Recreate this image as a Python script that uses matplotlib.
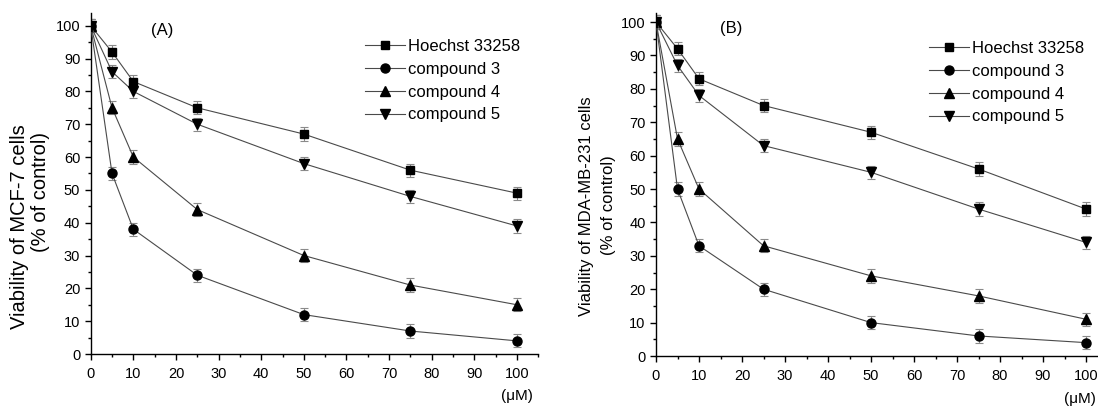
import matplotlib.pyplot as plt
from matplotlib.lines import Line2D
from matplotlib.ticker import MultipleLocator

plt.rcParams['font.family'] = ['Liberation Sans', 'DejaVu Sans']

conc = [0, 5, 10, 25, 50, 75, 100]
series_names = ["Hoechst 33258", "compound 3", "compound 4", "compound 5"]
markers = ["s", "o", "^", "v"]
marker_sizes = [5.8, 6.5, 7.0, 7.0]

# panel A: MCF-7
mcf7_hoechst = [100, 92, 83, 75, 67, 56, 49]
mcf7_c3 = [100, 55, 38, 24, 12, 7, 4]
mcf7_c4 = [100, 75, 60, 44, 30, 21, 15]
mcf7_c5 = [100, 86, 80, 70, 58, 48, 39]

# panel B: MDA-MB-231
mda_hoechst = [100, 92, 83, 75, 67, 56, 44]
mda_c3 = [100, 50, 33, 20, 10, 6, 4]
mda_c4 = [100, 65, 50, 33, 24, 18, 11]
mda_c5 = [100, 87, 78, 63, 55, 44, 34]

err = 2.0

LINE = "#4a4a4a"
EBAR = "#8a8a8a"

W, H = 1098, 408
fig = plt.figure(figsize=(W / 100, H / 100), dpi=100)


def fx(px):
    return px / W


def fy(py):
    return 1 - py / H


def px_box(x0, y0, x1, y1):
    return [x0 / W, 1 - y1 / H, (x1 - x0) / W, (y1 - y0) / H]


def panel(ax, data, ytop, tag, tag_xy, leg_xy):
    for vals, m, ms in zip(data, markers, marker_sizes):
        ax.errorbar(conc, vals, yerr=err, fmt='none', ecolor=EBAR,
                    elinewidth=0.8, capsize=2.6, capthick=0.8, zorder=2)
        ax.plot(conc, vals, color=LINE, linewidth=0.8, marker=m,
                markersize=ms, mfc="black", mec="black", zorder=3)
    ax.set_xlim(0, 105)
    ax.set_ylim(0, ytop)
    ax.xaxis.set_major_locator(MultipleLocator(10))
    ax.xaxis.set_minor_locator(MultipleLocator(5))
    ax.yaxis.set_major_locator(MultipleLocator(10))
    ax.yaxis.set_minor_locator(MultipleLocator(5))
    ax.spines['top'].set_visible(False)
    ax.spines['right'].set_visible(False)
    for s in ("left", "bottom"):
        ax.spines[s].set_linewidth(1.0)
    ax.tick_params(which='major', direction='out', length=4, width=1.0,
                   labelsize=10.5)
    ax.tick_params(which='minor', direction='out', length=2.5, width=1.0)
    ax.tick_params(axis='x', which='major', pad=5)
    ax.tick_params(axis='y', which='major', pad=3.5)
    fig.text(fx(tag_xy[0]), fy(tag_xy[1]), tag, fontsize=12,
             ha='center', va='center')
    handles = [Line2D([], [], color=LINE, linewidth=0.8, marker=m,
                      markersize=ms, mfc="black", mec="black")
               for m, ms in zip(markers, marker_sizes)]
    fig.legend(handles, series_names, loc='upper left',
               bbox_to_anchor=(fx(leg_xy[0]), fy(leg_xy[1])),
               frameon=False, fontsize=12, handlelength=2.4,
               handletextpad=0.2, labelspacing=0.47, borderpad=0,
               borderaxespad=0)


axA = fig.add_axes(px_box(90.7, 12.6, 538.3, 354))
panel(axA, [mcf7_hoechst, mcf7_c3, mcf7_c4, mcf7_c5], 104.0, "(A)",
      (162, 31), (365, 39))
fig.text(fx(20), fy(227), "Viability of MCF-7 cells", rotation=90,
         fontsize=14.5, ha='center', va='center')
fig.text(fx(41), fy(192), "(% of control)", rotation=90,
         fontsize=14.5, ha='center', va='center')
fig.text(fx(517), fy(396), "(\u03bcM)", fontsize=11,
         ha='center', va='center')

axB = fig.add_axes(px_box(656, 13, 1107.5, 356))
panel(axB, [mda_hoechst, mda_c3, mda_c4, mda_c5], 102.7, "(B)",
      (731, 29), (929, 41))
fig.text(fx(586), fy(206), "Viability of MDA-MB-231 cells", rotation=90,
         fontsize=12, ha='center', va='center')
fig.text(fx(608), fy(205), "(% of control)", rotation=90,
         fontsize=12, ha='center', va='center')
fig.text(fx(1080), fy(399), "(\u03bcM)", fontsize=11,
         ha='center', va='center')

fig.savefig("out.png", dpi=100)
